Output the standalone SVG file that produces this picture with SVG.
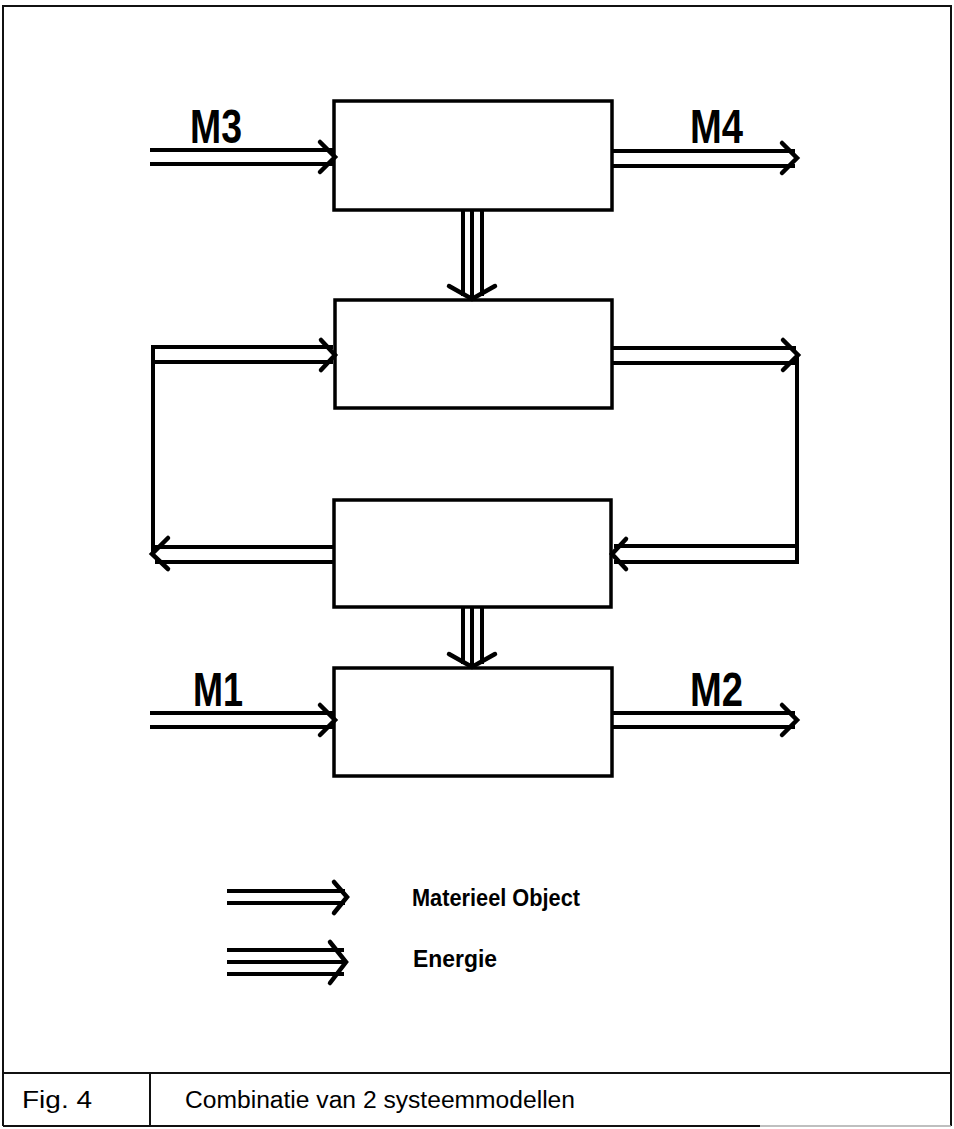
<svg xmlns="http://www.w3.org/2000/svg" width="954" height="1129" viewBox="0 0 954 1129">
<style>
.frame{fill:none;stroke:#111;stroke-width:2}
.box{fill:#fff;stroke:#000;stroke-width:3.5}
.ln{fill:none;stroke:#000;stroke-width:4;stroke-linecap:butt}
.hd{fill:none;stroke:#000;stroke-width:4.5;stroke-linecap:round;stroke-linejoin:miter}
.lbl{font-family:"Liberation Sans",Arial,sans-serif;font-weight:bold;font-size:48px;fill:#000}
.leg{font-family:"Liberation Sans",Arial,sans-serif;font-weight:bold;font-size:23px;fill:#000}
.cap{font-family:"Liberation Sans",Arial,sans-serif;font-size:23px;fill:#000}
</style>
<rect width="954" height="1129" fill="#fff"/>
<g id="frame">
<path class="frame" d="M3,1126 V6 H951 V1126"/>
<path class="frame" d="M3,1073 H951"/>
<path class="frame" d="M150,1073 V1126"/>
<path class="frame" d="M3,1126 H760"/>
<path d="M760,1126 H951" fill="none" stroke="#aaa" stroke-width="1.5"/>
</g>
<g id="box1"><rect class="box" x="334" y="101" width="278" height="109"/></g>
<g id="box2"><rect class="box" x="335" y="300" width="277" height="108"/></g>
<g id="box3"><rect class="box" x="334" y="500" width="277" height="107"/></g>
<g id="box4"><rect class="box" x="334" y="668" width="278" height="108"/></g>
<g id="connectors">
<!-- M3 -->
<path class="ln" d="M150,150 H333 M150,164 H333"/>
<path class="hd" d="M320,142 L335,157 L320,172"/>
<!-- M4 -->
<path class="ln" d="M612,151 H795 M612,166 H795"/>
<path class="hd" d="M782,143 L797,158 L782,173"/>
<!-- energy box1 -> box2 -->
<path class="ln" d="M463,210 V296 M472,210 V298 M482,210 V296"/>
<path class="hd" d="M449,286 L472,299 L495,286"/>
<!-- box2 -> right loop -> box3 -->
<path class="ln" d="M612,348 H796 M612,363 H796"/>
<path class="hd" d="M783,340 L798,355 L783,370"/>
<path class="ln" d="M797,355 V564"/>
<path class="ln" d="M799,546 H614 M799,562 H614"/>
<path class="hd" d="M626,539 L612,554 L626,569"/>
<!-- box3 -> left loop -> box2 -->
<path class="ln" d="M334,547 H154 M334,562 H155"/>
<path class="hd" d="M168,538 L152,554 L168,569"/>
<path class="ln" d="M153,554 V345"/>
<path class="ln" d="M151,347 H333 M155,362 H333"/>
<path class="hd" d="M321,340 L335,355 L321,370"/>
<!-- energy box3 -> box4 -->
<path class="ln" d="M463,607 V664 M472,607 V666 M482,607 V664"/>
<path class="hd" d="M449,654 L472,667 L495,654"/>
<!-- M1 -->
<path class="ln" d="M150,713 H333 M150,727 H333"/>
<path class="hd" d="M320,705 L335,720 L320,735"/>
<!-- M2 -->
<path class="ln" d="M612,713 H795 M612,727 H795"/>
<path class="hd" d="M782,705 L797,720 L782,735"/>
</g>
<g id="labels">
<text class="lbl" x="190" y="143" textLength="52" lengthAdjust="spacingAndGlyphs">M3</text>
<text class="lbl" x="690" y="143" textLength="53" lengthAdjust="spacingAndGlyphs">M4</text>
<text class="lbl" x="193" y="706" textLength="50" lengthAdjust="spacingAndGlyphs">M1</text>
<text class="lbl" x="690" y="706" textLength="53" lengthAdjust="spacingAndGlyphs">M2</text>
</g>
<g id="legend">
<path class="ln" d="M227,891 H345 M227,903 H345"/>
<path class="hd" d="M334,882 L347,897 L334,913"/>
<path class="ln" d="M227,950 H344 M227,962 H346 M227,974 H344"/>
<path class="hd" d="M330,942 L346,962 L330,983"/>
<text class="leg" x="412" y="906" textLength="168" lengthAdjust="spacingAndGlyphs">Materieel Object</text>
<text class="leg" x="413" y="967" textLength="84" lengthAdjust="spacingAndGlyphs">Energie</text>
</g>
<g id="caption">
<text class="cap" x="22" y="1108" textLength="70" lengthAdjust="spacingAndGlyphs">Fig. 4</text>
<text class="cap" x="185" y="1108" textLength="390" lengthAdjust="spacingAndGlyphs">Combinatie van 2 systeemmodellen</text>
</g>
</svg>
